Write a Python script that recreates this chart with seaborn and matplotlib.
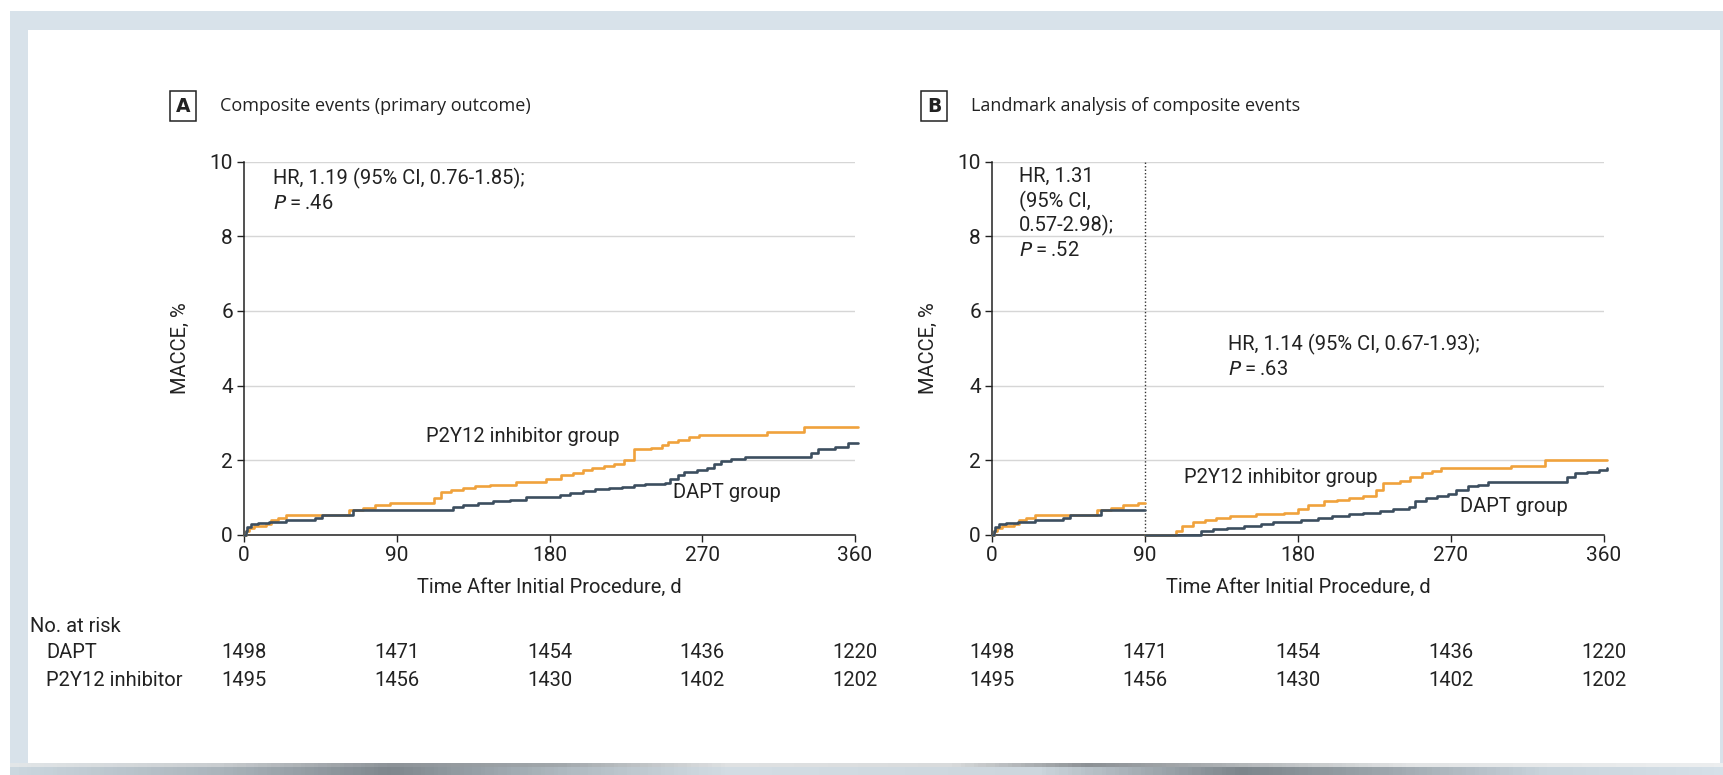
import numpy as np
import pandas as pd
import matplotlib
matplotlib.use("Agg")
import matplotlib.pyplot as plt
import matplotlib.transforms as mtransforms
from matplotlib.patches import Rectangle
from matplotlib.colors import LinearSegmentedColormap
import seaborn as sns

# ---------------- data ----------------
# Panel A: cumulative MACCE (%) step curves, 0-360 d
a_p2y12_t = [0, 1, 3, 6, 13, 16, 20, 25, 62, 70, 77, 86, 92, 112, 116, 122, 129, 136, 145, 160,
             178, 187, 194, 200, 205, 212, 218, 224, 230, 240, 246, 250, 256, 262, 268, 308, 330, 362]
a_p2y12_v = [0, 0.10, 0.20, 0.25, 0.30, 0.40, 0.45, 0.53, 0.67, 0.72, 0.80, 0.85, 0.87, 1.00, 1.15, 1.20,
             1.27, 1.32, 1.35, 1.43, 1.50, 1.60, 1.67, 1.73, 1.80, 1.85, 1.90, 2.00, 2.30, 2.33, 2.42,
             2.50, 2.55, 2.62, 2.68, 2.75, 2.88, 2.88]
a_dapt_t = [0, 1, 2, 4, 8, 15, 25, 42, 46, 64, 123, 129, 138, 147, 157, 166, 186, 192, 200, 207,
            215, 223, 230, 236, 248, 251, 256, 259, 267, 273, 277, 281, 287, 295, 334, 338, 348, 356, 362]
a_dapt_v = [0, 0.12, 0.22, 0.30, 0.33, 0.35, 0.40, 0.45, 0.53, 0.67, 0.75, 0.80, 0.85, 0.90, 0.95,
            1.03, 1.08, 1.12, 1.17, 1.22, 1.25, 1.28, 1.33, 1.37, 1.40, 1.50, 1.60, 1.70, 1.75,
            1.80, 1.90, 1.97, 2.03, 2.10, 2.20, 2.30, 2.35, 2.45, 2.45]

# Panel B: landmark analysis, 0-90 d and 90-360 d
b1_p2y12_t = [0, 1, 3, 6, 13, 16, 20, 25, 62, 70, 77, 86, 90]
b1_p2y12_v = [0, 0.10, 0.20, 0.25, 0.30, 0.40, 0.45, 0.53, 0.67, 0.72, 0.80, 0.87, 0.87]
b1_dapt_t = [0, 1, 2, 4, 8, 15, 25, 42, 46, 64, 90]
b1_dapt_v = [0, 0.12, 0.22, 0.30, 0.33, 0.35, 0.40, 0.45, 0.53, 0.67, 0.67]
b2_p2y12_t = [90, 108, 112, 118, 125, 132, 140, 155, 172, 180, 186, 195, 203, 210, 218, 226, 230,
              240, 246, 253, 259, 264, 305, 325, 362]
b2_p2y12_v = [0, 0.10, 0.25, 0.35, 0.40, 0.45, 0.50, 0.55, 0.60, 0.70, 0.80, 0.90, 0.95, 1.00, 1.05,
              1.20, 1.40, 1.45, 1.55, 1.65, 1.72, 1.80, 1.85, 2.00, 2.00]
b2_dapt_t = [90, 123, 130, 138, 148, 158, 165, 182, 192, 200, 210, 218, 228, 236, 245, 249, 255,
             262, 268, 273, 280, 286, 292, 338, 343, 350, 357, 362]
b2_dapt_v = [0, 0.10, 0.15, 0.20, 0.25, 0.30, 0.35, 0.40, 0.45, 0.50, 0.55, 0.60, 0.65, 0.70, 0.75,
             0.90, 1.00, 1.05, 1.10, 1.20, 1.30, 1.35, 1.42, 1.55, 1.65, 1.70, 1.75, 1.80]

# Number at risk
risk_days = [0, 90, 180, 270, 360]
risk_dapt = [1498, 1471, 1454, 1436, 1220]
risk_p2y12 = [1495, 1456, 1430, 1402, 1202]

x_ticks = [0, 90, 180, 270, 360]
y_ticks = [0, 2, 4, 6, 8, 10]

# ---------------- style ----------------
sns.set_theme(style="white")
plt.rcParams["font.family"] = ["Roboto", "DejaVu Sans"]
FS = 14.5
TXT = "#222222"
ORANGE = "#f0a23c"
NAVY = "#3c4e5f"
palette = {"P2Y12": ORANGE, "DAPT": NAVY}

W, H = 1723, 775
fig = plt.figure(figsize=(W / 100, H / 100), dpi=100)
fig.patch.set_facecolor("white")


def px(x0, y0, x1, y1):
    """Figure rectangle from pixel box (top-left origin)."""
    return [x0 / W, 1 - y1 / H, (x1 - x0) / W, (y1 - y0) / H]


# page frame
frame_col = "#d8e2ea"
fig.patches.append(Rectangle((10 / W, 1 - 30 / H), 1 - 10 / W, 19 / H, transform=fig.transFigure,
                             facecolor=frame_col, edgecolor="none", zorder=0))
fig.patches.append(Rectangle((10 / W, 12 / H), 18 / W, 1 - 42 / H, transform=fig.transFigure,
                             facecolor=frame_col, edgecolor="none", zorder=0))
fig.patches.append(Rectangle((1720 / W, 12 / H), 3 / W, 1 - 42 / H, transform=fig.transFigure,
                             facecolor=frame_col, edgecolor="none", zorder=0))

# bottom shaded bar
bar_ax = fig.add_axes(px(10, 763, 1723, 775))
stops_top = [(0.0, "#e2e6e8"), (0.12, "#c9cdd0"), (0.22, "#8d9398"), (0.32, "#a2a8ac"),
             (0.42, "#e0e2e3"), (0.55, "#d9dbdc"), (0.63, "#8c9195"), (0.70, "#a9adb0"),
             (0.82, "#e3e5e6"), (1.0, "#eceeef")]
stops_bot = [(0.0, "#cbd7df"), (0.12, "#aab4bb"), (0.22, "#7f878d"), (0.32, "#aeb8bf"),
             (0.42, "#d3dde4"), (0.6, "#ccd6dd"), (0.72, "#7d858b"), (0.80, "#9aa3a9"),
             (0.9, "#c9d4dc"), (1.0, "#d5e0e8")]
cm_top = LinearSegmentedColormap.from_list("top", stops_top)
cm_bot = LinearSegmentedColormap.from_list("bot", stops_bot)
g = np.linspace(0, 1, 400)
img = np.vstack([np.tile(cm_top(g), (4, 1, 1)), np.tile(cm_bot(g), (8, 1, 1))])
bar_ax.imshow(img, aspect="auto", extent=(0, 1, 0, 1))
bar_ax.set_axis_off()


def to_df(segments):
    rows = []
    for seg_id, (grp, ts, vs) in enumerate(segments):
        for t, v in zip(ts, vs):
            rows.append({"day": t, "pct": v, "group": grp, "seg": seg_id})
    return pd.DataFrame(rows)


def style_axes(ax):
    ax.set_xlim(0, 360)
    ax.set_ylim(0, 10)
    ax.set_xticks(x_ticks)
    ax.set_yticks(y_ticks)
    ax.set_xticklabels([str(v) for v in x_ticks])
    ax.set_yticklabels([str(v) for v in y_ticks])
    ax.yaxis.grid(True, color="#d6d6d6", linewidth=1.0)
    ax.xaxis.grid(False)
    ax.set_axisbelow(True)
    for s in ("top", "right"):
        ax.spines[s].set_visible(False)
    for s in ("left", "bottom"):
        ax.spines[s].set_color(TXT)
        ax.spines[s].set_linewidth(1.1)
    ax.tick_params(axis="both", which="major", direction="out", length=5, width=1.0,
                   color=TXT, labelsize=FS + 0.5, labelcolor=TXT, pad=3,
                   bottom=True, left=True)
    ax.set_xlabel("Time After Initial Procedure, d", fontsize=FS, color=TXT, labelpad=9)
    ax.set_ylabel("MACCE, %", fontsize=FS, color=TXT, labelpad=14)
    ax.set_facecolor("white")


def draw_curves(ax, df):
    sns.lineplot(data=df, x="day", y="pct", hue="group", units="seg", estimator=None,
                 palette=palette, drawstyle="steps-post", linewidth=1.9, sort=False,
                 legend=False, ax=ax, clip_on=False, zorder=3)


def risk_table(ax):
    trans = mtransforms.blended_transform_factory(ax.transData, fig.transFigure)
    for d, n1, n2 in zip(risk_days, risk_dapt, risk_p2y12):
        ax.text(d, 1 - 653 / H, str(n1), transform=trans, ha="center", va="center",
                fontsize=FS, color=TXT)
        ax.text(d, 1 - 680 / H, str(n2), transform=trans, ha="center", va="center",
                fontsize=FS, color=TXT)


def panel_label(x, y, letter, title):
    fig.text(x / W, 1 - y / H, letter, fontsize=13.5, fontweight="bold", color=TXT,
             ha="center", va="center", family=["DejaVu Sans"],
             bbox=dict(boxstyle="square,pad=0.3", facecolor="white", edgecolor=TXT,
                       linewidth=1.1))
    fig.text((x + 37) / W, 1 - y / H, title, fontsize=13, color=TXT,
             ha="left", va="center", family=["Open Sans", "DejaVu Sans"])


def p_text(ax, x, y, val):
    ax.text(x, y, "$\\it{P}$\u2009=\u2009" + val, fontsize=FS, color=TXT, va="center")


# ---------------- panel A ----------------
axA = fig.add_axes(px(244, 161.5, 855, 535))
dfA = to_df([("P2Y12", a_p2y12_t, a_p2y12_v), ("DAPT", a_dapt_t, a_dapt_v)])
draw_curves(axA, dfA)
style_axes(axA)
axA.text(17, 9.55, "HR, 1.19 (95% CI, 0.76-1.85);", fontsize=FS, color=TXT, va="center")
p_text(axA, 17, 8.88, ".46")
axA.text(107, 2.65, "P2Y12 inhibitor group", fontsize=FS, color=TXT, va="center")
axA.text(253, 1.15, "DAPT group", fontsize=FS, color=TXT, va="center")
risk_table(axA)
panel_label(183, 106, "A", "Composite events (primary outcome)")

# ---------------- panel B ----------------
axB = fig.add_axes(px(992, 161.5, 1604, 535))
dfB = to_df([("P2Y12", b1_p2y12_t, b1_p2y12_v), ("DAPT", b1_dapt_t, b1_dapt_v),
             ("P2Y12", b2_p2y12_t, b2_p2y12_v), ("DAPT", b2_dapt_t, b2_dapt_v)])
draw_curves(axB, dfB)
style_axes(axB)
axB.axvline(90, color="#333333", linestyle=(0, (1, 1.5)), linewidth=1.0, zorder=2)
for i, line in enumerate(["HR, 1.31", "(95% CI,", "0.57-2.98);"]):
    axB.text(16, 9.6 - i * 0.66, line, fontsize=FS, color=TXT, va="center")
p_text(axB, 16, 9.6 - 3 * 0.66, ".52")
axB.text(139, 5.1, "HR, 1.14 (95% CI, 0.67-1.93);", fontsize=FS, color=TXT, va="center")
p_text(axB, 139, 4.43, ".63")
axB.text(113, 1.53, "P2Y12 inhibitor group", fontsize=FS, color=TXT, va="center")
axB.text(275, 0.75, "DAPT group", fontsize=FS, color=TXT, va="center")
risk_table(axB)
panel_label(934, 106, "B", "Landmark analysis of composite events")

# number-at-risk row labels
fig.text(30 / W, 1 - 626 / H, "No. at risk", fontsize=FS, color=TXT, va="center")
fig.text(46 / W, 1 - 653 / H, "DAPT", fontsize=FS, color=TXT, va="center")
fig.text(46 / W, 1 - 680 / H, "P2Y12 inhibitor", fontsize=FS, color=TXT, va="center")

fig.savefig("out.png", dpi=100, facecolor="white")
